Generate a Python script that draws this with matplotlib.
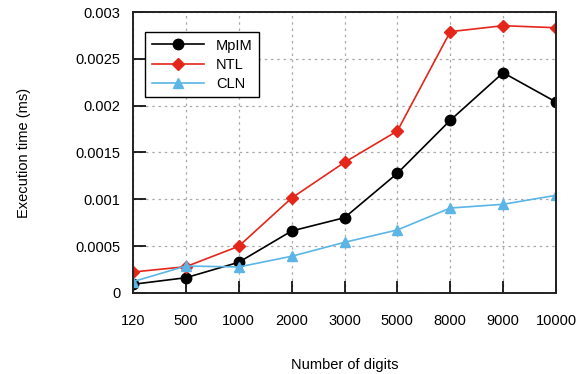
import numpy as np
import matplotlib.pyplot as plt

plt.rcParams['font.family'] = ['Liberation Sans', 'DejaVu Sans']

# Data
digits = ['120', '500', '1000', '2000', '3000', '5000', '8000', '9000', '10000']
mpim = [0.000093, 0.000163, 0.000328, 0.000662, 0.000804, 0.001278, 0.001844, 0.002352, 0.002039]
ntl = [0.000224, 0.000281, 0.000499, 0.001014, 0.001395, 0.00173, 0.00279, 0.002854, 0.002832]
cln = [0.000121, 0.000288, 0.000278, 0.000392, 0.000541, 0.000673, 0.000907, 0.000947, 0.001043]
yticks = [0, 0.0005, 0.001, 0.0015, 0.002, 0.0025, 0.003]
ytick_labels = ['0', '0.0005', '0.001', '0.0015', '0.002', '0.0025', '0.003']

fig = plt.figure(figsize=(5.88, 3.74), dpi=100)
ax = fig.add_axes([0.2262, 0.2166, 0.9456 - 0.2262, 0.9679 - 0.2166])

x = np.arange(len(digits))
ax.plot(x, mpim, color='black', marker='o', markersize=7.5, lw=1.2, label='MpIM')
ax.plot(x, ntl, color='#e5261a', marker='D', markersize=6.5, lw=1.2, label='NTL')
ax.plot(x, cln, color='#5bb5e6', marker='^', markersize=7.5, lw=1.2, label='CLN')

ax.set_xlim(0, len(digits) - 1)
ax.set_ylim(0, 0.003)
ax.set_xticks(x)
ax.set_xticklabels(digits)
ax.set_yticks(yticks)
ax.set_yticklabels(ytick_labels)

ax.grid(True, color='#aaaaaa', linestyle=(0, (2, 3)), lw=0.9)
ax.set_axisbelow(True)
for s in ax.spines.values():
    s.set_linewidth(1.4)
    s.set_color('#222222')

ax.tick_params(axis='both', direction='in', length=9, width=1.2, labelsize=10.5,
               top=False, right=False)
ax.tick_params(axis='x', pad=15)
ax.tick_params(axis='y', pad=9)

ax.set_xlabel('Number of digits', fontsize=10.5, labelpad=22)
ax.set_ylabel('Execution time (ms)', fontsize=10.5, labelpad=32)

leg = ax.legend(loc='upper left', bbox_to_anchor=(0.012, 0.955), fontsize=10.5,
                handlelength=3.6, fancybox=False, framealpha=1, edgecolor='black',
                borderpad=0.45, labelspacing=0.35)
leg.get_frame().set_linewidth(1.0)

fig.savefig('out.png', dpi=100)
